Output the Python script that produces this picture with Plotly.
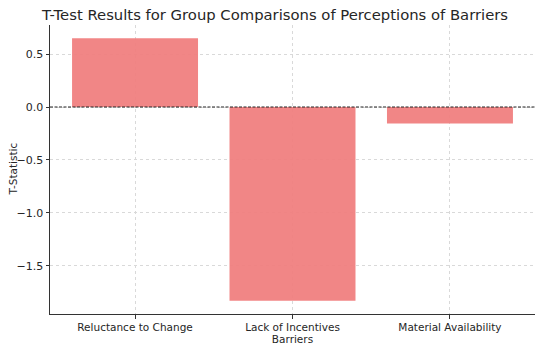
import plotly.graph_objects as go

categories = ["Reluctance to Change", "Lack of Incentives", "Material Availability"]
t_stats = [0.65, -1.83, -0.155]
y_ticks = [-1.5, -1.0, -0.5, 0.0, 0.5]
y_tick_labels = ["−1.5", "−1.0", "−0.5", "0.0", "0.5"]

fig = go.Figure()
fig.add_trace(go.Bar(
    x=[0, 1, 2], y=t_stats, width=0.8,
    marker=dict(color="rgba(240,128,128,0.95)", line=dict(width=0)),
))
fig.add_shape(type="line", xref="paper", yref="y", x0=0, x1=1, y0=0, y1=0,
              line=dict(color="#222", width=1, dash="3px,1.5px"), layer="above")

font = "DejaVu Sans, sans-serif"
fig.update_layout(
    width=550, height=345,
    margin=dict(l=50, r=15, t=25, b=31),
    plot_bgcolor="white", paper_bgcolor="white",
    showlegend=False,
    font=dict(family=font, size=10.5, color="#262626"),
    title=dict(text="T-Test Results for Group Comparisons of Perceptions of Barriers",
               x=0.5, xanchor="center", y=0.958, yanchor="middle",
               font=dict(size=14.8, color="#262626")),
)
fig.update_xaxes(
    range=[-0.54, 2.54], tickmode="array", tickvals=[0, 1, 2], ticktext=categories,
    showline=True, linecolor="#333", linewidth=1, mirror=False,
    ticks="outside", ticklen=3.5, tickcolor="#333",
    showgrid=True, gridcolor="#d9d9d9", griddash="dot", gridwidth=1,
    zeroline=False, layer="above traces", automargin=False,
    title=dict(text="Barriers", font=dict(size=10.5), standoff=0),
)
fig.update_yaxes(
    range=[-1.954, 0.774], tickmode="array", tickvals=y_ticks, ticktext=y_tick_labels,
    tickfont=dict(size=11),
    showline=True, linecolor="#333", linewidth=1,
    ticks="outside", ticklen=3.5, tickcolor="#333",
    showgrid=True, gridcolor="#d9d9d9", griddash="dot", gridwidth=1,
    zeroline=False, layer="above traces", automargin=False,
)
fig.add_annotation(text="T-Statistic", xref="paper", yref="paper", x=-38/485, y=0.5,
                   xanchor="center", yanchor="middle", textangle=-90, showarrow=False,
                   font=dict(size=10.5, color="#262626"))
fig.write_html("out.html", config={"displayModeBar": False},
               post_script="document.body.style.margin='0px';document.body.style.padding='0px';")
